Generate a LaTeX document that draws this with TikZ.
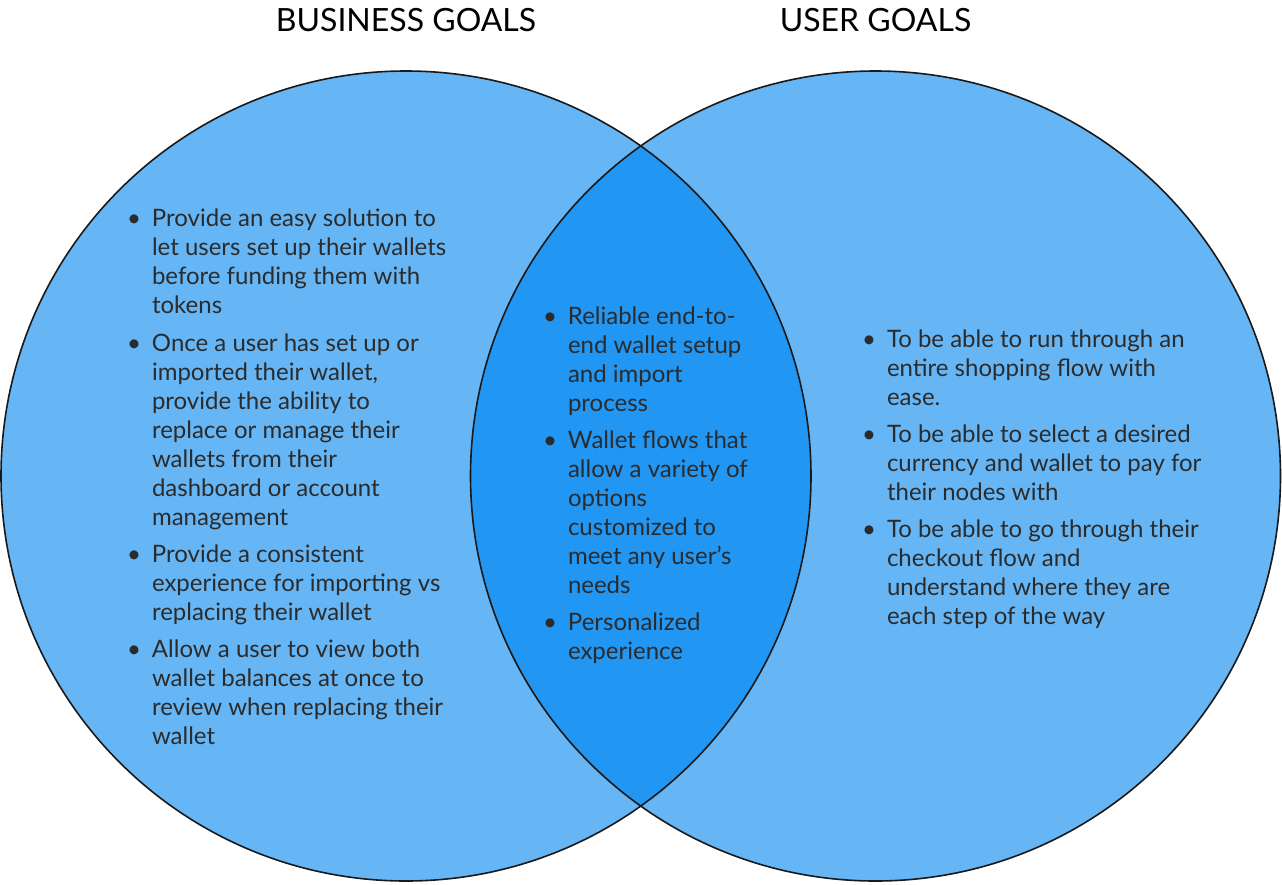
\documentclass[tikz,border=0pt]{standalone}
\usepackage{fontspec}
\setmainfont{Lato}
\definecolor{lightblue}{HTML}{66B6F6}
\definecolor{midblue}{HTML}{2196F3}
\definecolor{txt}{HTML}{2B2B2B}
\begin{document}
\begin{tikzpicture}[x=1pt,y=-1pt,
  goal/.style={inner sep=0pt, outer sep=0pt, align=left, text=txt,
    font=\fontsize{24}{29}\selectfont, anchor=base west},
  title/.style={inner sep=0pt, font=\fontsize{32}{36}\selectfont, text=black, anchor=base},
  ring/.style={draw=black!90, line width=1.6pt}]
\useasboundingbox (0,0) rectangle (1282,884);
\fill[white] (0,0) rectangle (1282,884);
\coordinate (cl) at (406,476);
\coordinate (cr) at (875.5,476);
\fill[lightblue] (cl) circle (405);
\fill[lightblue] (cr) circle (405);
\begin{scope}
  \clip (cl) circle (405);
  \fill[midblue] (cr) circle (405);
\end{scope}
\draw[ring] (cl) circle (405);
\draw[ring] (cr) circle (405);
\newcommand{\bul}{\llap{•\hspace{11pt}}}
\node[title] (tb) at (406,31) {BUSINESS GOALS};
\node[title] (tu) at (875.5,31) {USER GOALS};
% left (anchor = baseline of last line)
\node[goal] (l1) at (152,313) {\bul Provide an easy solution to\\let users set up their wallets\\before funding them with\\tokens};
\node[goal] (l2) at (152,525) {\bul Once a user has set up or\\imported their wallet,\\provide the ability to\\replace or manage their\\wallets from their\\dashboard or account\\management};
\node[goal] (l3) at (152,620) {\bul Provide a consistent\\experience for importing vs\\replacing their wallet};
\node[goal] (l4) at (152,744) {\bul Allow a user to view both\\wallet balances at once to\\review when replacing their\\wallet};
% middle
\node[goal] (m1) at (568,411) {\bul Reliable end-to-\\end wallet setup\\and import\\process};
\node[goal] (m2) at (568,593) {\bul Wallet flows that\\allow a variety of\\options\\customized to\\meet any user's\\needs};
\node[goal] (m3) at (568,659) {\bul Personalized\\experience};
% right
\node[goal] (r1) at (887,405) {\bul To be able to run through an\\entire shopping flow with\\ease.};
\node[goal] (r2) at (887,500) {\bul To be able to select a desired\\currency and wallet to pay for\\their nodes with};
\node[goal] (r3) at (887,624) {\bul To be able to go through their\\checkout flow and\\understand where they are\\each step of the way};
\end{tikzpicture}
\end{document}
